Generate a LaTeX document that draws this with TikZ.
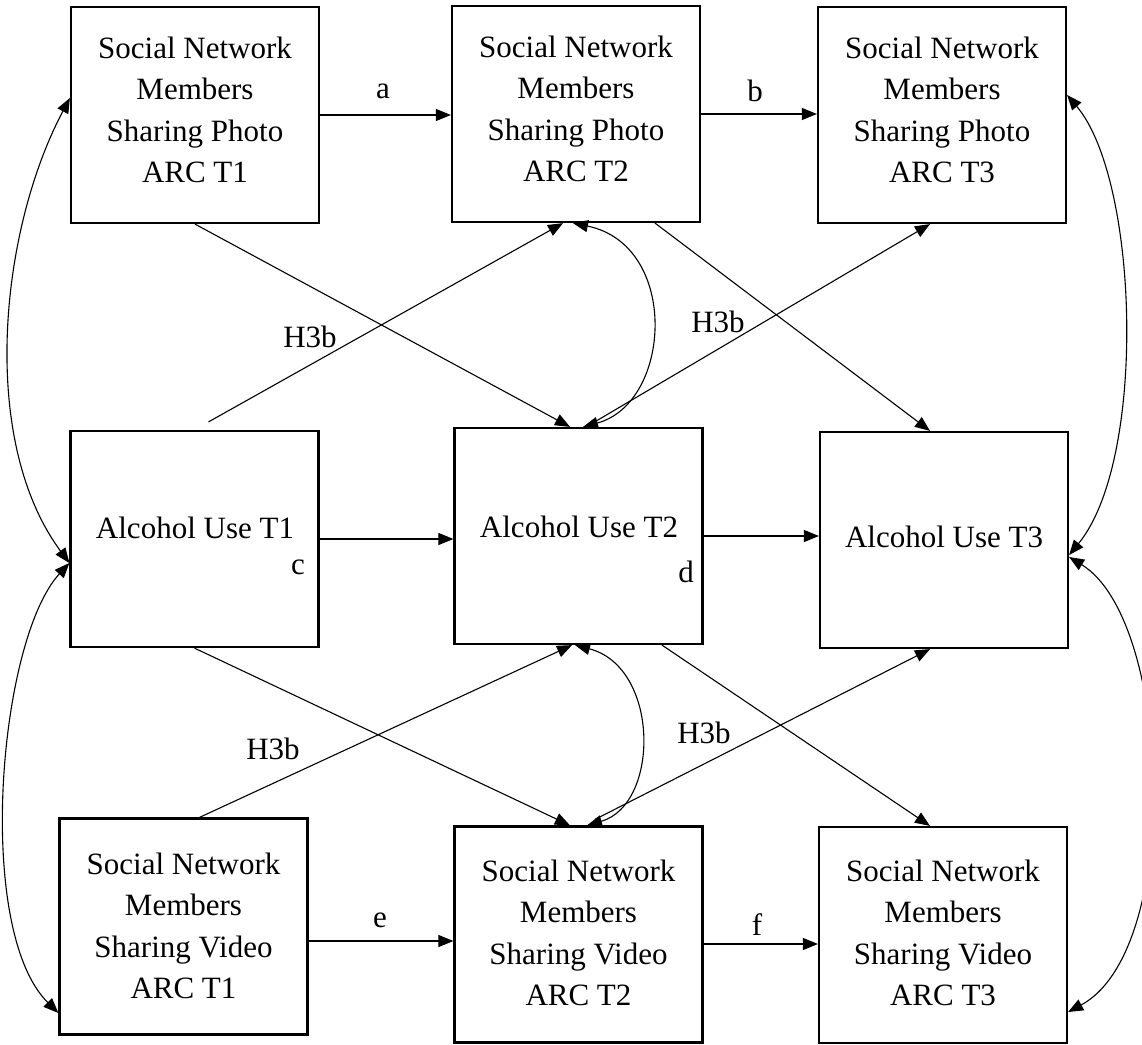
\documentclass[tikz,border=0pt]{standalone}
\usepackage{fontspec}
\setmainfont{Liberation Serif}
\usetikzlibrary{arrows.meta}
\begin{document}
\begin{tikzpicture}[x=1pt,y=-1pt,
  box/.style={draw, line width=2.2pt, minimum width=248pt, minimum height=216pt, inner sep=0pt},
  txt/.style={align=center, font=\fontsize{31}{41.5}\selectfont, inner sep=0pt},
  lbl/.style={font=\fontsize{31}{37}\selectfont, inner sep=0pt},
  tip/.tip={Triangle[length=15pt,width=12pt]},
  link/.style={line width=1.1pt, -tip},
  both/.style={line width=1.1pt, tip-tip},
]
% canvas
\fill[white] (0,0) rectangle (1142,1044);
\useasboundingbox (0,0) rectangle (1142,1044);

% boxes
\node[box] (A1) at (195,115) {};
\node[box] (A2) at (576,114) {};
\node[box] (A3) at (942,115) {};
\node[box] (B1) at (194.5,539) {};
\node[box] (B2) at (578.5,536) {};
\node[box] (B3) at (944,540) {};
\node[box] (C1) at (183.5,926.5) {};
\node[box] (C2) at (578.5,934.5) {};
\node[box] (C3) at (943,935) {};

% box texts
\node[txt] (tA1) at (195,110) {Social Network\\Members\\Sharing Photo\\ARC T1};
\node[txt] (tA2) at (576,109) {Social Network\\Members\\Sharing Photo\\ARC T2};
\node[txt] (tA3) at (942,110) {Social Network\\Members\\Sharing Photo\\ARC T3};
\node[txt] (tB1) at (195,528) {Alcohol Use T1};
\node[txt] (tB2) at (579,527) {Alcohol Use T2};
\node[txt] (tB3) at (944,537) {Alcohol Use T3};
\node[txt] (tC1) at (183.5,926) {Social Network\\Members\\Sharing Video\\ARC T1};
\node[txt] (tC2) at (578.5,933) {Social Network\\Members\\Sharing Video\\ARC T2};
\node[txt] (tC3) at (943,933) {Social Network\\Members\\Sharing Video\\ARC T3};

% horizontal paths
\draw[link] (A1.east) -- (A1.east -| A2.west);
\draw[link] (A2.east) -- (A2.east -| A3.west);
\draw[link] (B1.east) -- (B1.east -| B2.west);
\draw[link] (B2.east) -- (B2.east -| B3.west);
\coordinate (eS) at ([yshift=-14.5pt]C1.east);
\draw[link] (eS) -- (eS -| C2.west);
\coordinate (fS) at ([yshift=-9.5pt]C2.east);
\draw[link] (fS) -- (fS -| C3.west);

% cross-lagged paths
\draw[link] (A1.south) -- ([xshift=-8.5pt]B2.north);
\draw[link] ([xshift=14pt,yshift=8pt]B1.north) -- ([xshift=-13pt]A2.south);
\draw[link] ([xshift=79pt]A2.south) -- ([xshift=-14pt]B3.north);
\draw[link] ([xshift=14.5pt,yshift=4pt]B2.north) -- ([xshift=-12pt]A3.south);
\draw[link] (B1.south) -- ([xshift=-8.5pt]C2.north);
\draw[link] ([xshift=16pt]C1.north) -- ([xshift=-6.5pt]B2.south);
\draw[link] ([xshift=83.5pt]B2.south) -- ([xshift=-13pt]C3.north);
\draw[link] ([xshift=16.5pt,yshift=6pt]C2.north) -- ([xshift=-14pt]B3.south);

% covariances
\draw[both] ([xshift=-3pt]A2.south) .. controls +(107,22) and +(89,-24) .. ([xshift=4.5pt]B2.north);
\draw[both] ([xshift=-3.5pt]B2.south) .. controls +(85,22) and +(73,-21) .. ([xshift=8.5pt]C2.north);
\draw[both] ([yshift=17pt]A1.west) .. controls +(-70,132) and +(-91,-123) .. ([yshift=-24pt]B1.west);
\draw[both] ([yshift=-24pt]B1.west) .. controls +(-71,77) and +(-84,-83) .. ([yshift=-86.5pt]C1.west);
\draw[both] ([yshift=20pt]A3.east) .. controls +(72,85) and +(78,-95) .. ([yshift=-15pt]B3.east);
\draw[both] ([yshift=-17pt]B3.east) .. controls +(103,63) and +(115,-62) .. ([yshift=-77pt]C3.east);

% path labels
\node[lbl] (la) at (383,91) {a};
\node[lbl] (lb) at (755,91) {b};
\node[lbl] (lc) at (298,567) {c};
\node[lbl] (ld) at (686,572) {d};
\node[lbl] (le) at (380,920) {e};
\node[lbl] (lf) at (757,925) {f};
\node[lbl] (h1) at (310,337) {H3b};
\node[lbl] (h2) at (718,322) {H3b};
\node[lbl] (h3) at (273,749) {H3b};
\node[lbl] (h4) at (704,733) {H3b};
\end{tikzpicture}
\end{document}
